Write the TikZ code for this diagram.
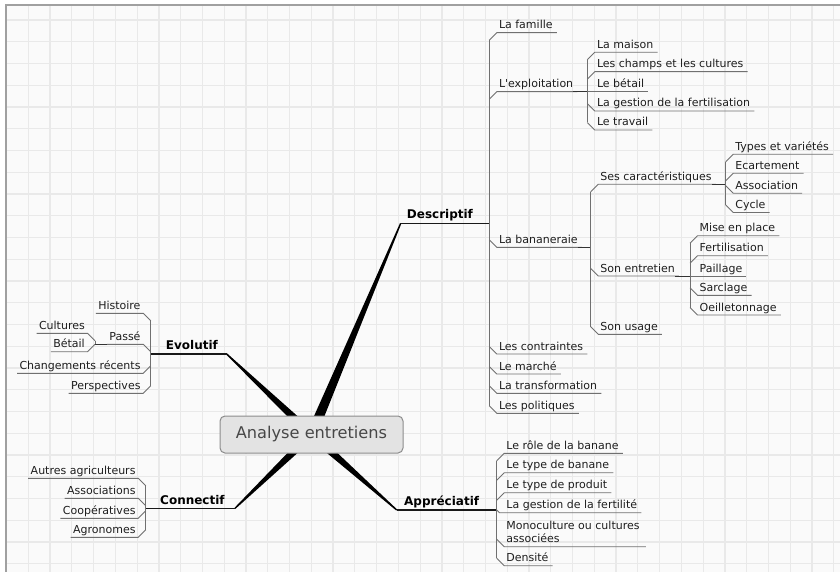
\documentclass[tikz,border=0pt]{standalone}
\usepackage{fontspec}
\setmainfont{DejaVu Sans}
\usetikzlibrary{calc}
\definecolor{gridc}{HTML}{E9E9E9}
\definecolor{bgc}{HTML}{FAFAFA}
\definecolor{framec}{HTML}{A0A0A0}
\definecolor{subc}{HTML}{707070}
\definecolor{txtc}{HTML}{1E1E1E}
\definecolor{boxfill}{HTML}{E3E3E3}
\definecolor{boxdraw}{HTML}{8C8C8C}
\definecolor{ctext}{HTML}{474747}
\tikzset{
  sub/.style={inner sep=0pt, text=txtc, font=\fontsize{11}{13.3}\selectfont},
  mainlbl/.style={inner sep=0pt, text=black, font=\fontsize{12}{14}\selectfont\bfseries},
  subline/.style={draw=subc, line width=0.9pt},
  mainline/.style={draw=black!90, line width=1.1pt},
  trunk/.style={draw=subc, line width=1pt},
  taper/.style={fill=black},
  gridline/.style={draw=gridc, line width=1.2pt},
}
% right-side child: name, trunk x, parent y, child y, text
\newcommand{\rsub}[5]{%
  \node[sub,anchor=base west] (#1) at (#2+9.5,#4-4) {#5};
  \pgfmathsetmacro\chd{abs(#4-#3)<1.5 ? 0 : min(7.5,abs(#4-#3))}
  \pgfmathsetmacro\chs{(#4<#3) ? \chd : -\chd}
  \draw[subline] (#2,#4+\chs) -- (#2+\chd,#4) -- ([xshift=4pt,yshift=-4pt]#1.base east);
}
% left-side child
\newcommand{\lsub}[5]{%
  \node[sub,anchor=base east] (#1) at (#2-10,#4-4) {#5};
  \pgfmathsetmacro\chd{abs(#4-#3)<1.5 ? 0 : min(7.5,abs(#4-#3))}
  \pgfmathsetmacro\chs{(#4<#3) ? \chd : -\chd}
  \draw[subline] (#2,#4+\chs) -- (#2-\chd,#4) -- ([xshift=-2.3pt,yshift=-4pt]#1.base west);
}
\newcommand{\tapr}[3]{%
  \fill[taper] ($(#1)!#3!90:(#2)$) -- ($(#2)!0.7pt!-90:(#1)$) -- ($(#2)!0.7pt!90:(#1)$) -- ($(#1)!#3!-90:(#2)$) -- cycle;
}
\begin{document}
\begin{tikzpicture}[x=1pt,y=-1pt]
\useasboundingbox (0,0) rectangle (840,572);
% background and grid
\fill[white] (0,0) rectangle (840,572);
\fill[bgc] (6,5) rectangle (840,572);
\foreach \i in {0,...,37} \draw[gridline] (28.3+21.77*\i,5) -- (28.3+21.77*\i,572);
\foreach \j in {0,...,25} \draw[gridline] (6,20+21.75*\j) -- (840,20+21.75*\j);
\draw[framec, line width=1.3pt] (6,572) -- (6,5) -- (840,5);

% tapered main branches
\coordinate (cen) at (311.5,434.5);
\coordinate (eD) at (400.7,223.3);
\coordinate (eE) at (226.7,354);
\coordinate (eC) at (235,508.3);
\coordinate (eA) at (396.7,510);
\tapr{cen}{eD}{5.2pt}
\tapr{cen}{eE}{4.4pt}
\tapr{cen}{eC}{4.4pt}
\tapr{cen}{eA}{4.4pt}

% central topic
\node[draw=boxdraw, fill=boxfill, line width=1pt, rounded corners=5pt,
      minimum width=183pt, minimum height=37pt, inner sep=0pt,
      text=ctext, font=\fontsize{16.2}{19}\selectfont] (root) at (cen) {Analyse entretiens};

% ---------- Descriptif ----------
\node[mainlbl,anchor=base west] (desc) at (406.7,218.3) {Descriptif};
\draw[mainline] (eD) -- (489.3,223.3);
\rsub{famille}{489.3}{223.3}{32.7}{La famille}
\rsub{expl}{489.3}{223.3}{91.7}{L\textquotesingle exploitation}
\rsub{banan}{489.3}{223.3}{247.3}{La bananeraie}
\rsub{contr}{489.3}{223.3}{354}{Les contraintes}
\rsub{marche}{489.3}{223.3}{374}{Le marché}
\rsub{transf}{489.3}{223.3}{393.3}{La transformation}
\rsub{polit}{489.3}{223.3}{413.3}{Les politiques}
\draw[trunk] (489.3,40.2) -- (489.3,405.8);

% L'exploitation
\draw[draw=black!80, line width=1pt] ([yshift=-4pt]expl.base east) -- (587.3,91.7);
\rsub{maison}{587.3}{91.7}{52.3}{La maison}
\rsub{champs}{587.3}{91.7}{71.7}{Les champs et les cultures}
\rsub{betail}{587.3}{91.7}{91.7}{Le bétail}
\rsub{gestfert}{587.3}{91.7}{111}{La gestion de la fertilisation}
\rsub{travail}{587.3}{91.7}{130}{Le travail}
\draw[trunk] (587.3,59.8) -- (587.3,122.5);

% La bananeraie
\draw[draw=black!80, line width=1pt] ([yshift=-4pt]banan.base east) -- (590.7,247.3);
\rsub{carac}{590.7}{247.3}{184.3}{Ses caractéristiques}
\rsub{entr}{590.7}{247.3}{276}{Son entretien}
\rsub{usage}{590.7}{247.3}{334.3}{Son usage}
\draw[trunk] (590.7,191.8) -- (590.7,326.8);

% Ses caracteristiques
\draw[draw=black!80, line width=1pt] ([yshift=-4pt]carac.base east) -- (725.7,184.3);
\rsub{types}{725.7}{184.3}{154.3}{Types et variétés}
\rsub{ecart}{725.7}{184.3}{173.3}{Ecartement}
\rsub{assoc}{725.7}{184.3}{193.3}{Association}
\rsub{cycle}{725.7}{184.3}{212.5}{Cycle}
\draw[trunk] (725.7,161.8) -- (725.7,205);

% Son entretien
\draw[draw=black!80, line width=1pt] ([yshift=-4pt]entr.base east) -- (690,276);
\rsub{mise}{690}{276}{235.7}{Mise en place}
\rsub{fertil}{690}{276}{255.7}{Fertilisation}
\rsub{paill}{690}{276}{276}{Paillage}
\rsub{sarcl}{690}{276}{295.3}{Sarclage}
\rsub{oeill}{690}{276}{315}{Oeilletonnage}
\draw[trunk] (690,243.2) -- (690,307.5);

% ---------- Evolutif ----------
\node[mainlbl,anchor=base west] (evol) at (165.7,349.3) {Evolutif};
\draw[mainline] (150.7,354) -- (eE);
\lsub{hist}{150.7}{354}{313.3}{Histoire}
\lsub{passe}{150.7}{354}{344.3}{Passé}
\lsub{chang}{150.7}{354}{373.3}{Changements récents}
\lsub{persp}{150.7}{354}{393.3}{Perspectives}
\draw[trunk] (150.7,320.8) -- (150.7,385.8);
% Passe
\draw[draw=black!80, line width=1pt] (95,344.3) -- ([xshift=-2.3pt,yshift=-4pt]passe.base west);
\lsub{cult}{95}{344.3}{333.3}{Cultures}
\lsub{betailb}{95}{344.3}{351.7}{Bétail}
\draw[trunk] (95,340.8) -- (95,344.3);

% ---------- Connectif ----------
\node[mainlbl,anchor=base west] (conn) at (160,504) {Connectif};
\draw[mainline] (145.7,508.3) -- (eC);
\lsub{autres}{145.7}{508.3}{478.3}{Autres agriculteurs}
\lsub{assocs}{145.7}{508.3}{498.3}{Associations}
\lsub{coop}{145.7}{508.3}{518.3}{Coopératives}
\lsub{agro}{145.7}{508.3}{537.3}{Agronomes}
\draw[trunk] (145.7,485.8) -- (145.7,529.8);

% ---------- Appreciatif ----------
\node[mainlbl,anchor=base west] (appr) at (404,505) {Appréciatif};
\draw[mainline] (eA) -- (496.7,510);
\rsub{role}{496.7}{510}{453.3}{Le rôle de la banane}
\rsub{typeb}{496.7}{510}{472.7}{Le type de banane}
\rsub{typep}{496.7}{510}{492.7}{Le type de produit}
\rsub{gestf}{496.7}{510}{512.7}{La gestion de la fertilité}
\node[sub,anchor=base west,align=left] (mono) at (506.2,542.7) {Monoculture ou cultures\\associées};
\coordinate (monoE) at ([xshift=6pt]mono.east);
\draw[subline] (496.7,539.2) -- (504.2,546.7) -- (monoE |- 0,546.7);
\rsub{dens}{496.7}{510}{565.7}{Densité}
\draw[trunk] (496.7,460.8) -- (496.7,558.2);
\end{tikzpicture}
\end{document}
